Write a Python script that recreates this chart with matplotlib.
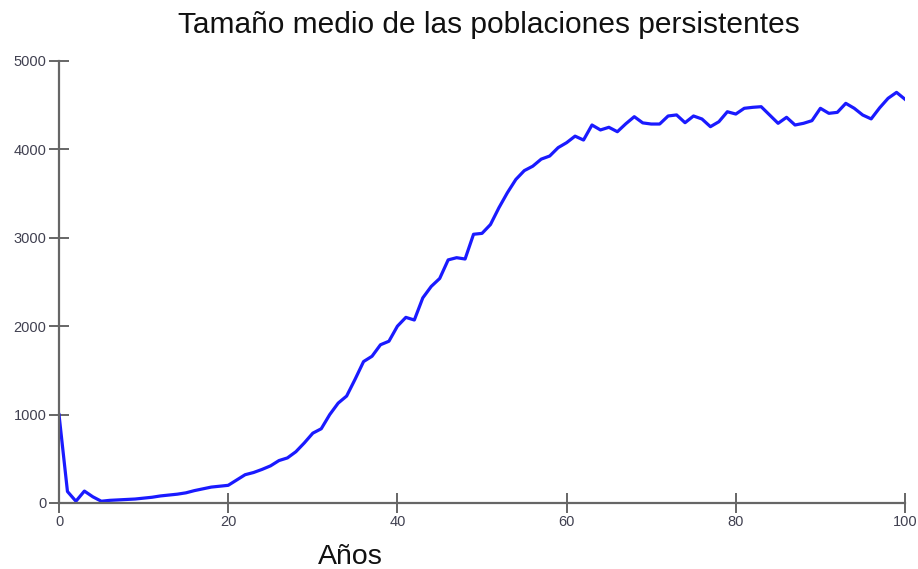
import matplotlib
matplotlib.use("Agg")
import matplotlib.pyplot as plt

# mean size of persistent populations, one value per year
years = list(range(0, 101))
tamano = [1000, 130, 20, 135, 70, 20, 30, 35, 40, 45,
          55, 65, 80, 90, 100, 115, 140, 160, 180, 190,
          200, 260, 320, 345, 380, 420, 480, 510, 580, 680,
          790, 840, 1000, 1130, 1210, 1400, 1600, 1660, 1790, 1830,
          2000, 2100, 2070, 2320, 2450, 2540, 2750, 2775, 2760, 3040,
          3050, 3150, 3340, 3510, 3660, 3760, 3810, 3890, 3925, 4020,
          4076, 4150, 4106, 4276, 4220, 4250, 4200, 4290, 4370, 4300,
          4287, 4287, 4378, 4390, 4302, 4378, 4344, 4257, 4313, 4426,
          4400, 4465, 4476, 4483, 4389, 4295, 4363, 4276, 4295, 4325,
          4465, 4408, 4419, 4521, 4465, 4389, 4345, 4470, 4578, 4645,
          4567]
xticks = [0, 20, 40, 60, 80, 100]
yticks = [0, 1000, 2000, 3000, 4000, 5000]

titulo = "Tamaño medio de las poblaciones persistentes"
etiqueta_x = "Años"

plt.rcParams['font.family'] = ['Liberation Sans', 'DejaVu Sans']

fig = plt.figure(figsize=(9.18, 5.69), dpi=100)
ax = fig.add_axes([59/918, 66/569, 846/918, 442/569])

ax.plot(years, tamano, color="#1a1aff", lw=2.3, solid_joinstyle="round")

ax.set_xlim(0, 100)
ax.set_ylim(0, 5000)
ax.set_xticks(xticks)
ax.set_yticks(yticks)

for s in ["top", "right"]:
    ax.spines[s].set_visible(False)
for s in ["left", "bottom"]:
    ax.spines[s].set_color("#666666")
    ax.spines[s].set_linewidth(1.6)

ax.tick_params(direction="inout", length=14, width=1.4, color="#666666",
               labelsize=10.5, labelcolor="#404050", pad=2)

fig.text(489/918, 1 - 25/569, titulo, ha="center", va="center",
         fontsize=21.5, color="#111111")
fig.text(350/918, 1 - 557/569, etiqueta_x, ha="center", va="center",
         fontsize=20.5, color="#111111")

fig.savefig("out.png", dpi=100)
